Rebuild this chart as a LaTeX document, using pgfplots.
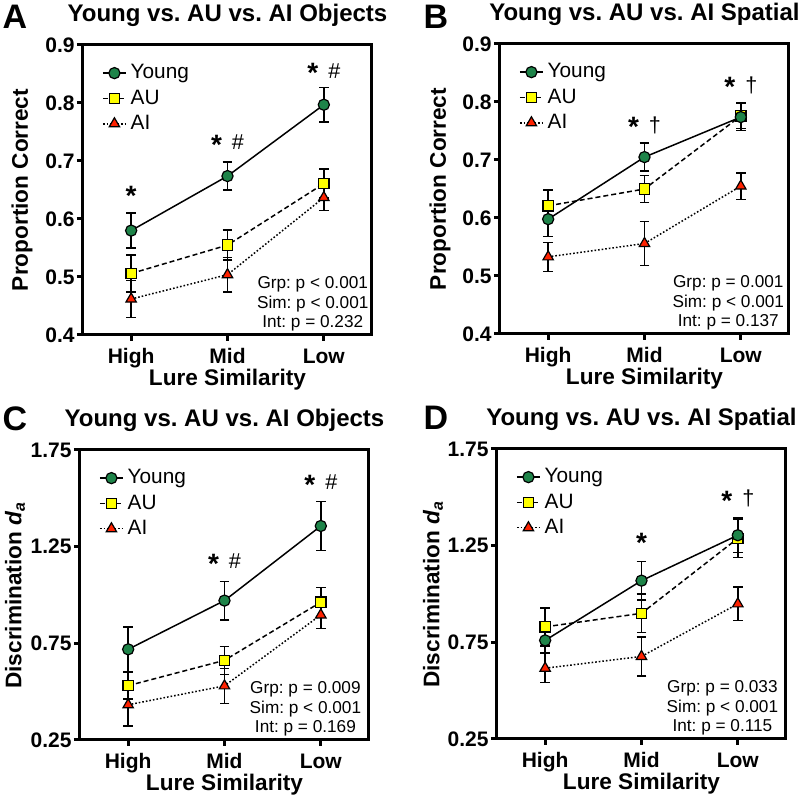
\documentclass[border=0pt]{standalone}
\usepackage{fontspec}
\setmainfont{Liberation Sans}
\usepackage{pgfplots}
\pgfplotsset{compat=1.18}
\frenchspacing
\definecolor{yg}{HTML}{1E8449}
\definecolor{auy}{HTML}{FFFF00}
\definecolor{air}{HTML}{FF2200}
\newcommand{\st}{\raisebox{-2.4pt}{\fontsize{14}{14}\selectfont\bfseries *}}
\tikzset{
  stats/.style={anchor=south, align=center, inner sep=0pt, yshift=1.7pt, font=\fontsize{8.6}{9.8}\selectfont},
  ann/.style={anchor=base, font=\fontsize{10.8}{12}\selectfont},
}
\pgfplotsset{
  panel/.style={
    width=144.5pt, height=145pt, scale only axis,
    xmin=-0.5, xmax=2.5, xtick={0,1,2}, xticklabels={High,Mid,Low},
    axis line style={line width=1.5pt},
    tick style={line width=1.5pt, black},
    major tick length=3pt, tick align=outside,
    xtick pos=bottom, ytick pos=left,
    /pgf/number format/assume math mode=true,
    tick label style={font=\fontsize{10.5}{12}\selectfont\bfseries},
    xticklabel style={text height=7.6pt, text depth=2.2pt},
    yticklabel style={xshift=2.3pt},
    label style={font=\fontsize{11.3}{13}\selectfont\bfseries},
    xlabel={Lure Similarity},
    xlabel style={at={(rel axis cs:0.5,0)}, anchor=center, yshift=-22.5pt},
    title style={at={(rel axis cs:0.5,1)}, anchor=center, yshift=9pt, font=\fontsize{12}{14}\selectfont\bfseries},
    legend style={draw=none, fill=none, at={(0.065,0.948)}, anchor=north west,
      font=\fontsize{10.4}{12}\selectfont, row sep=0pt, inner sep=0pt},
    legend cell align=left,
    reverse legend,
    legend image code/.code={\draw[mark repeat=2, mark phase=2] plot coordinates {(0pt,0pt) (5.75pt,0pt) (11.5pt,0pt)};},
    error bars/y dir=both, error bars/y explicit,
    error bars/error bar style={solid, line width=0.75pt, black},
    error bars/error mark options={rotate=90, mark size=2.4pt, line width=0.75pt, black, solid},
  },
  young/.style={black, line width=0.75pt, solid, mark=*, mark size=2.8pt, mark options={solid, fill=yg, draw=black, line width=0.6pt}},
  au/.style={black, line width=0.75pt, dash pattern=on 2.5pt off 1.5pt, mark=square*, mark size=2.6pt, mark options={solid, fill=auy, draw=black, line width=0.6pt}},
  ai/.style={black, line width=0.75pt, dash pattern=on 0.8pt off 1pt, mark=triangle*, mark size=3pt, mark options={solid, fill=air, draw=black, line width=0.6pt}},
}
\begin{document}
\begin{tikzpicture}
\path[use as bounding box] (0,0) rectangle (400pt,398.5pt);
\node[font=\fontsize{17}{17}\selectfont\bfseries] at (7.5pt,390pt) {A};
\node[font=\fontsize{17}{17}\selectfont\bfseries] at (218pt,390pt) {B};
\node[font=\fontsize{17}{17}\selectfont\bfseries] at (7.5pt,189pt) {C};
\node[font=\fontsize{17}{17}\selectfont\bfseries] at (218pt,189.5pt) {D};

% Panel A
\begin{axis}[panel, at={(41.5pt,231pt)}, anchor=south west,
  ymin=0.4, ymax=0.9, ytick={0.4,0.5,0.6,0.7,0.8,0.9},
  yticklabel style={/pgf/number format/.cd, fixed, precision=1, fixed zerofill},
  ylabel={Proportion Correct},
  ylabel style={at={(rel axis cs:0,0.5)}, anchor=center, yshift=30.5pt},
  title={Young vs. AU vs. AI Objects}]
\addplot[ai] coordinates {(0,0.462) +- (0,0.032) (1,0.504) +- (0,0.030) (2,0.637) +- (0,0.022)};
\addlegendentry{AI}
\addplot[au] coordinates {(0,0.506) +- (0,0.032) (1,0.555) +- (0,0.026) (2,0.661) +- (0,0.025)};
\addlegendentry{AU}
\addplot[young] coordinates {(0,0.580) +- (0,0.030) (1,0.674) +- (0,0.024) (2,0.797) +- (0,0.030)};
\addlegendentry{Young}
\node[ann] at (axis cs:0,0.631) {\st};
\node[ann] at (axis cs:1,0.720) {\st\hspace{5pt}\#};
\node[ann] at (axis cs:2,0.843) {\st\hspace{5pt}\#};
\node[stats] at (rel axis cs:0.795,0) {Grp: p < 0.001\\Sim: p < 0.001\\Int: p = 0.232};
\end{axis}

% Panel B
\begin{axis}[panel, at={(250pt,231.5pt)}, anchor=south west,
  ymin=0.4, ymax=0.9, ytick={0.4,0.5,0.6,0.7,0.8,0.9},
  yticklabel style={/pgf/number format/.cd, fixed, precision=1, fixed zerofill},
  ylabel={Proportion Correct},
  ylabel style={at={(rel axis cs:0,0.5)}, anchor=center, yshift=30pt},
  title={Young vs. AU vs. AI Spatial}]
\addplot[ai] coordinates {(0,0.533) +- (0,0.025) (1,0.556) +- (0,0.038) (2,0.655) +- (0,0.023)};
\addlegendentry{AI}
\addplot[au] coordinates {(0,0.621) +- (0,0.027) (1,0.650) +- (0,0.023) (2,0.776) +- (0,0.022)};
\addlegendentry{AU}
\addplot[young] coordinates {(0,0.598) +- (0,0.030) (1,0.705) +- (0,0.024) (2,0.774) +- (0,0.023)};
\addlegendentry{Young}
\node[ann] at (axis cs:1,0.748) {\st\hspace{5pt}\dag};
\node[ann] at (axis cs:2,0.817) {\st\hspace{5pt}\dag};
\node[stats] at (rel axis cs:0.79,0) {Grp: p = 0.001\\Sim: p < 0.001\\Int: p = 0.137};
\end{axis}

% Panel C
\begin{axis}[panel, at={(40pt,28.5pt)}, anchor=south west,
  ymin=0.25, ymax=1.75, ytick={0.25,0.75,1.25,1.75},
  yticklabel style={/pgf/number format/.cd, fixed, precision=2, fixed zerofill},
  ylabel={Discrimination \textit{d}\textsubscript{\textit{a}}},
  ylabel style={at={(rel axis cs:0,0.5)}, anchor=center, yshift=32.5pt},
  title={Young vs. AU vs. AI Objects}]
\addplot[ai] coordinates {(0,0.432) +- (0,0.110) (1,0.530) +- (0,0.090) (2,0.897) +- (0,0.070)};
\addlegendentry{AI}
\addplot[au] coordinates {(0,0.531) +- (0,0.070) (1,0.662) +- (0,0.072) (2,0.963) +- (0,0.076)};
\addlegendentry{AU}
\addplot[young] coordinates {(0,0.719) +- (0,0.115) (1,0.971) +- (0,0.100) (2,1.357) +- (0,0.126)};
\addlegendentry{Young}
\node[ann] at (axis cs:1,1.136) {\st\hspace{5pt}\#};
\node[ann] at (axis cs:2,1.545) {\st\hspace{5pt}\#};
\node[stats] at (rel axis cs:0.78,0) {Grp: p = 0.009\\Sim: p < 0.001\\Int: p = 0.169};
\end{axis}

% Panel D
\begin{axis}[panel, at={(248.5pt,29pt)}, anchor=south west,
  ymin=0.25, ymax=1.75, ytick={0.25,0.75,1.25,1.75},
  yticklabel style={/pgf/number format/.cd, fixed, precision=2, fixed zerofill},
  ylabel={Discrimination \textit{d}\textsubscript{\textit{a}}},
  ylabel style={at={(rel axis cs:0,0.5)}, anchor=center, yshift=32pt},
  title={Young vs. AU vs. AI Spatial}]
\addplot[ai] coordinates {(0,0.616) +- (0,0.075) (1,0.677) +- (0,0.100) (2,0.949) +- (0,0.087)};
\addlegendentry{AI}
\addplot[au] coordinates {(0,0.830) +- (0,0.098) (1,0.900) +- (0,0.100) (2,1.288) +- (0,0.100)};
\addlegendentry{AU}
\addplot[young] coordinates {(0,0.760) +- (0,0.065) (1,1.069) +- (0,0.100) (2,1.304) +- (0,0.090)};
\addlegendentry{Young}
\node[ann] at (axis cs:1,1.24) {\st};
\node[ann] at (axis cs:2,1.457) {\st\hspace{5pt}\dag};
\node[stats] at (rel axis cs:0.78,0) {Grp: p = 0.033\\Sim: p < 0.001\\Int: p = 0.115};
\end{axis}
\end{tikzpicture}
\end{document}
